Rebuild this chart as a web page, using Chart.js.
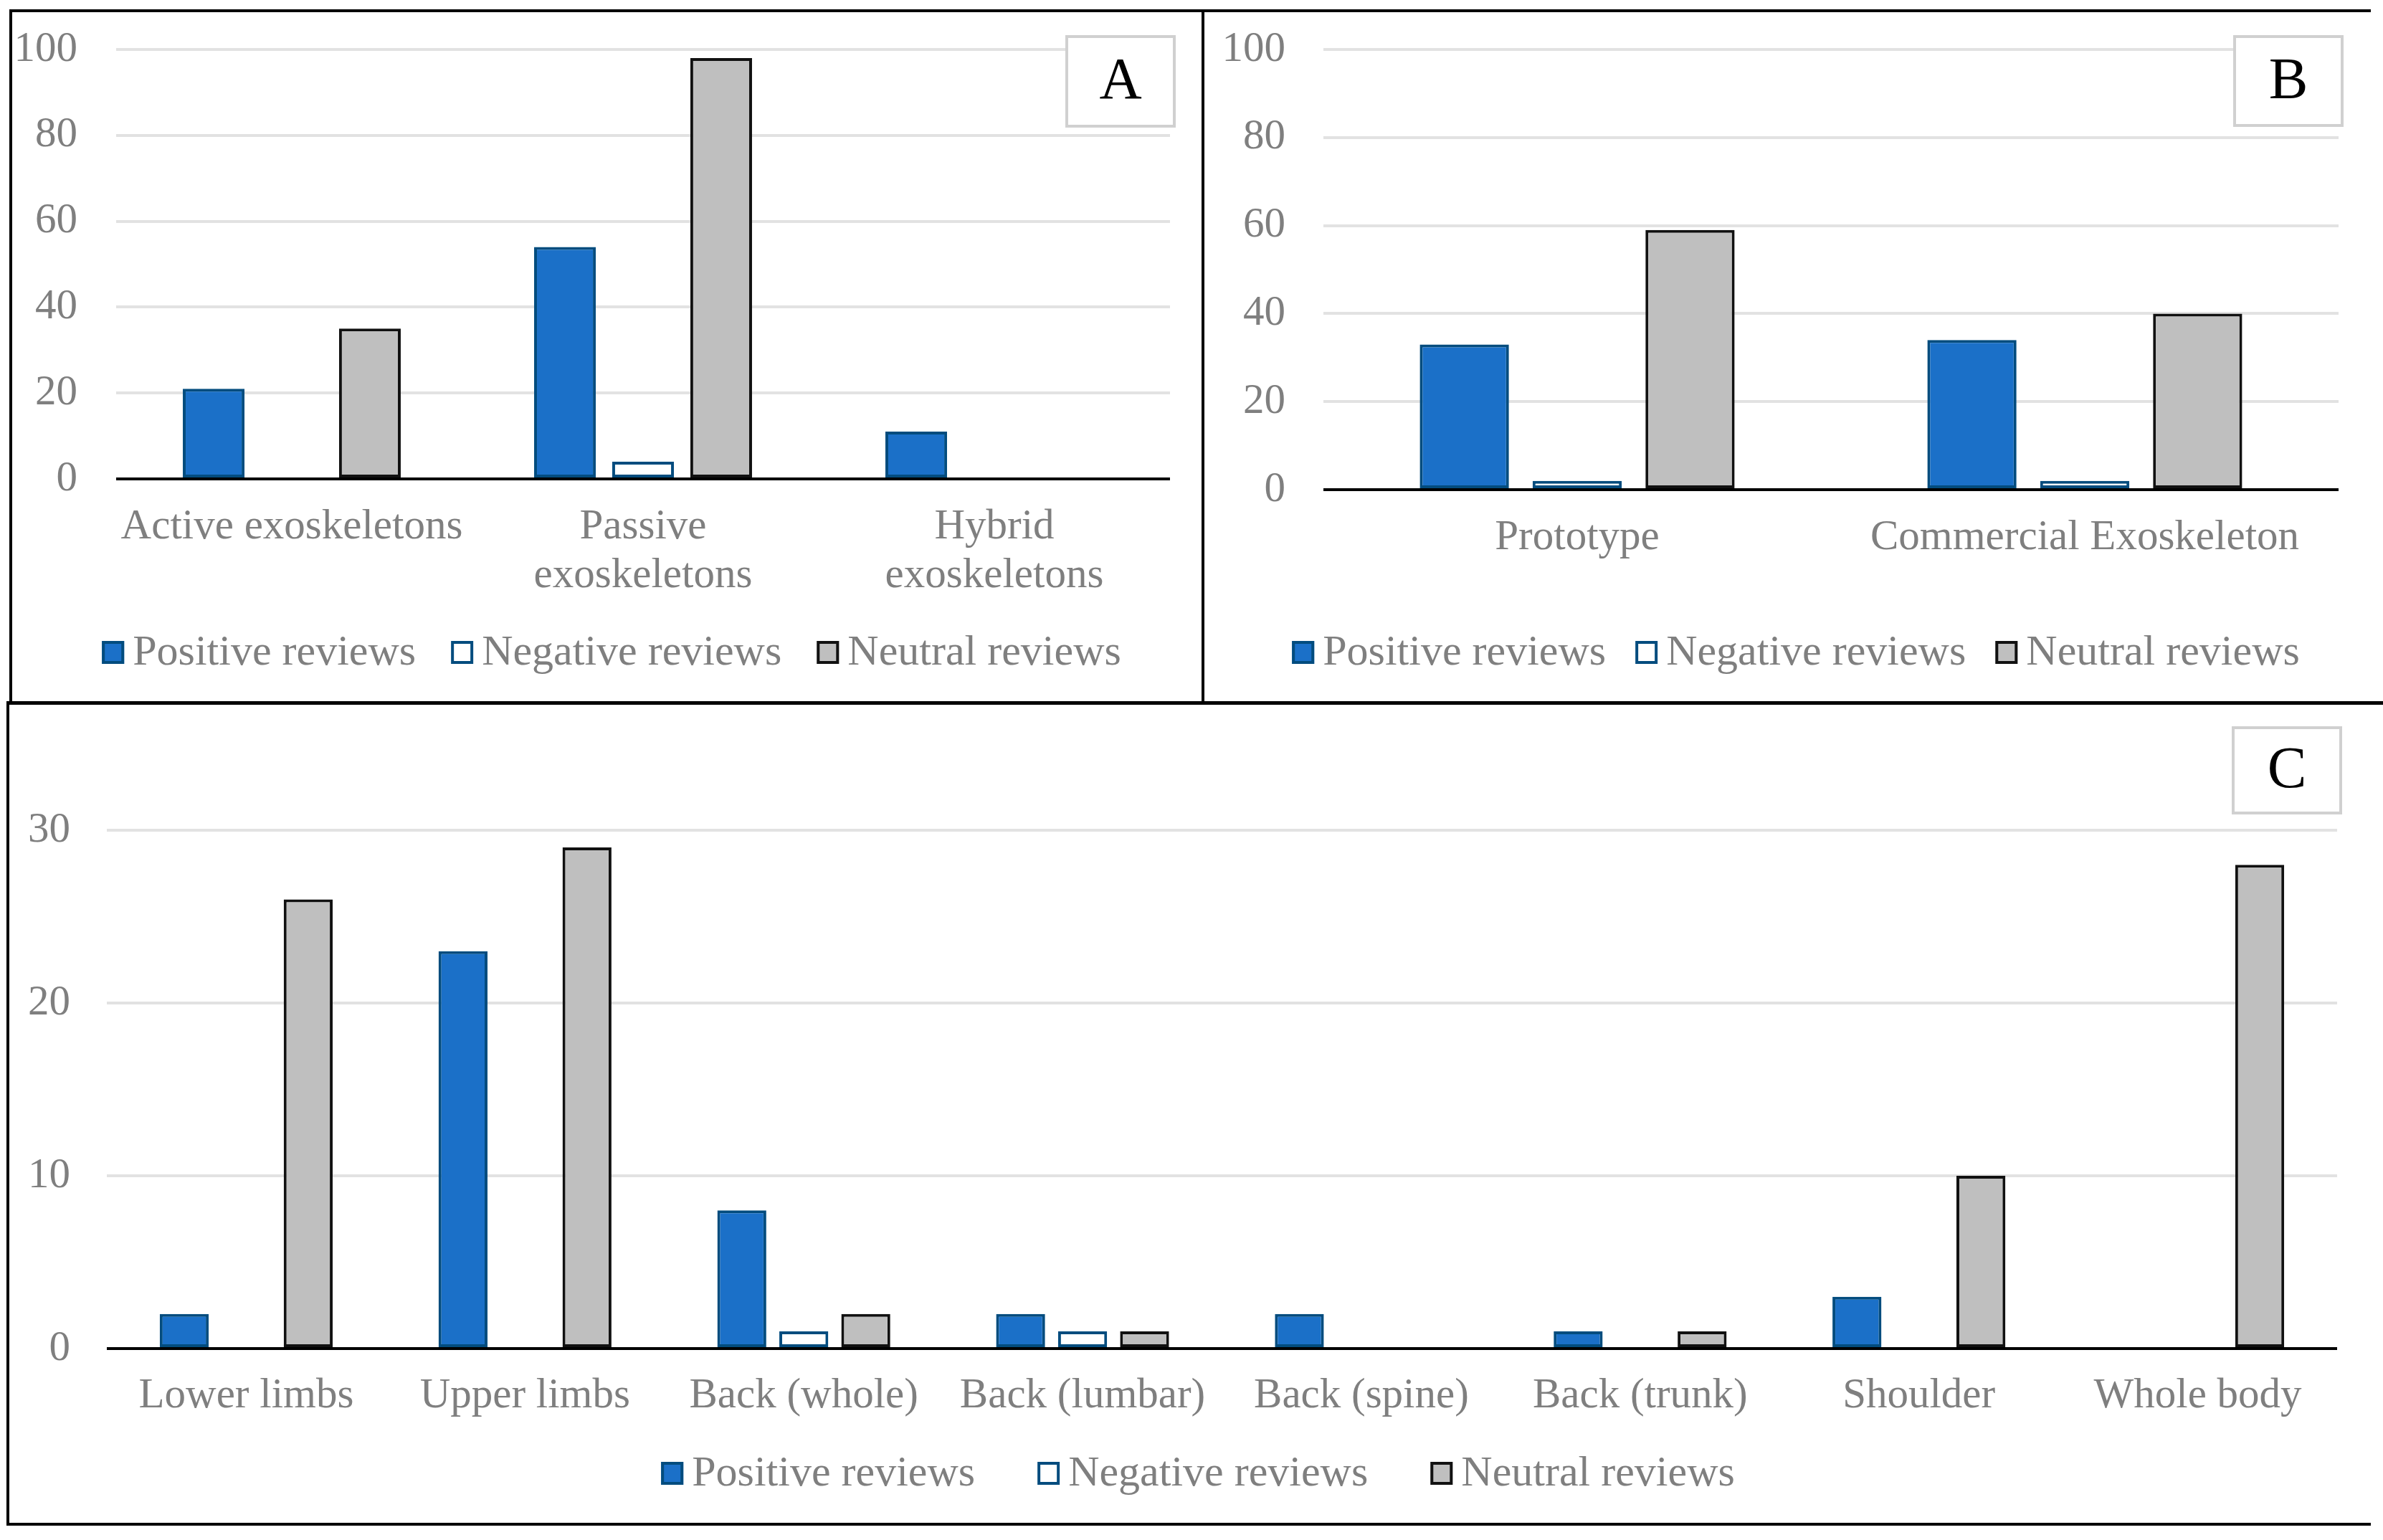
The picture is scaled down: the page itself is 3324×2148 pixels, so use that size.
<!DOCTYPE html>
<html>
<head>
<meta charset="utf-8">
<script src="https://cdn.jsdelivr.net/npm/chart.js@4.4.1/dist/chart.umd.min.js"></script>
<style>
  html, body { margin: 0; padding: 0; background: #ffffff; }
  body { width: 3324px; height: 2148px; position: relative; overflow: hidden; font-family: "Liberation Serif", serif; }
  canvas { position: absolute; }
  .ln { position: absolute; background: #000000; }
</style>
</head>
<body>
<div class="ln" style="left:13px;top:13px;width:3294px;height:4px;"></div>
<div class="ln" style="left:13px;top:13px;width:4px;height:970px;"></div>
<div class="ln" style="left:1676px;top:13px;width:4px;height:970px;"></div>
<div class="ln" style="left:9px;top:978px;width:3315px;height:5px;"></div>
<div class="ln" style="left:9px;top:978px;width:4px;height:1150px;"></div>
<div class="ln" style="left:9px;top:2124px;width:3298px;height:4px;"></div>

<canvas id="chartA" width="1659" height="961" style="left:17px;top:17px;width:1659px;height:961px;"></canvas>
<canvas id="chartB" width="1644" height="961" style="left:1680px;top:17px;width:1644px;height:961px;"></canvas>
<canvas id="chartC" width="3311" height="1141" style="left:13px;top:983px;width:3311px;height:1141px;"></canvas>

<script>
// ---------- Data ----------
const seriesNames = ["Positive reviews", "Negative reviews", "Neutral reviews"];

const categoriesA = ["Active exoskeletons", ["Passive", "exoskeletons"], ["Hybrid", "exoskeletons"]];
const positiveA = [21, 54, 11];
const negativeA = [0, 4, 0];
const neutralA  = [35, 98, 0];
const yTicksA   = [0, 20, 40, 60, 80, 100];

const categoriesB = ["Prototype", "Commercial Exoskeleton"];
const positiveB = [33, 34];
const negativeB = [2, 2];
const neutralB  = [59, 40];
const yTicksB   = [0, 20, 40, 60, 80, 100];

const categoriesC = ["Lower limbs", "Upper limbs", "Back (whole)", "Back (lumbar)", "Back (spine)", "Back (trunk)", "Shoulder", "Whole body"];
const positiveC = [2, 23, 8, 2, 2, 1, 3, 0];
const negativeC = [0, 0, 1, 1, 0, 0, 0, 0];
const neutralC  = [26, 29, 2, 1, 0, 1, 10, 28];
const yTicksC   = [0, 10, 20, 30];

// ---------- Styles ----------
const FONT = '"Liberation Serif", "Times New Roman", serif';
const GRAY_TEXT = '#7f7f7f';
const POS_FILL = '#1b70c8', POS_EDGE = '#034c7e';
const NEG_FILL = '#ffffff', NEG_EDGE = '#034c7e';
const NEU_FILL = '#bfbfbf', NEU_EDGE = '#111111';

function datasets(pos, neg, neu) {
  const common = { borderWidth: 4, borderSkipped: false, categoryPercentage: 0.667, barPercentage: 0.79 };
  return [
    Object.assign({ label: seriesNames[0], data: pos, backgroundColor: POS_FILL, borderColor: POS_EDGE }, common),
    Object.assign({ label: seriesNames[1], data: neg, backgroundColor: NEG_FILL, borderColor: NEG_EDGE }, common),
    Object.assign({ label: seriesNames[2], data: neu, backgroundColor: NEU_FILL, borderColor: NEU_EDGE }, common)
  ];
}

function decorPlugin(cfg) {
  return {
    id: 'decor_' + cfg.letter,
    afterDraw(chart) {
      const ctx = chart.ctx;
      ctx.save();
      // Legend
      ctx.font = '60px ' + FONT;
      ctx.textBaseline = 'middle';
      ctx.textAlign = 'left';
      const boxW = 31, boxH = 32, gap = 12;
      const items = chart.data.datasets.map(ds => ({
        text: ds.label, fill: ds.backgroundColor, edge: ds.borderColor,
        w: ctx.measureText(ds.label).width
      }));
      let total = 0;
      items.forEach((it, i) => { total += boxW + gap + it.w + (i ? cfg.itemGap : 0); });
      let x = cfg.legendCx - total / 2;
      items.forEach((it, i) => {
        if (i) x += cfg.itemGap;
        const y0 = cfg.legendCy - boxH / 2;
        ctx.fillStyle = it.fill;
        ctx.fillRect(x, y0, boxW, boxH);
        ctx.strokeStyle = it.edge;
        ctx.lineWidth = 4;
        ctx.strokeRect(x + 2, y0 + 2, boxW - 4, boxH - 4);
        x += boxW + gap;
        ctx.fillStyle = GRAY_TEXT;
        ctx.fillText(it.text, x, cfg.legendCy + 1);
        x += it.w;
      });
      // Panel letter box
      const b = cfg.box;
      ctx.fillStyle = '#ffffff';
      ctx.fillRect(b.x, b.y, b.w, b.h);
      ctx.strokeStyle = '#d0d0d0';
      ctx.lineWidth = 4;
      ctx.strokeRect(b.x + 2, b.y + 2, b.w - 4, b.h - 4);
      ctx.fillStyle = '#000000';
      ctx.font = '82px ' + FONT;
      ctx.textAlign = 'center';
      ctx.textBaseline = 'middle';
      ctx.fillText(cfg.letter, b.x + b.w / 2, b.y + b.h / 2 + 2);
      ctx.restore();
    }
  };
}

function makeChart(id, cats, pos, neg, neu, yTicks, L) {
  const step = yTicks[1] - yTicks[0];
  return new Chart(document.getElementById(id), {
    type: 'bar',
    data: { labels: cats, datasets: datasets(pos, neg, neu) },
    options: {
      responsive: false,
      devicePixelRatio: 1,
      animation: false,
      layout: { padding: { left: 0, right: L.padRight, top: L.padTop, bottom: L.padBottom } },
      plugins: { legend: { display: false }, tooltip: { enabled: false }, title: { display: false } },
      scales: {
        x: {
          grid: { display: false, drawTicks: false },
          border: { display: false },
          ticks: {
            color: GRAY_TEXT, padding: L.xPad, maxRotation: 0, minRotation: 0, autoSkip: false,
            font: { family: FONT, size: 59, lineHeight: 1.15 }
          },
          afterFit(s) { s.height = L.xHeight; s.paddingLeft = 0; s.paddingRight = 0; }
        },
        y: {
          min: yTicks[0], max: yTicks[yTicks.length - 1],
          border: { display: false },
          grid: {
            drawTicks: false, lineWidth: 4,
            color: c => (c.tick && c.tick.value === 0) ? '#000000' : '#e2e2e2'
          },
          ticks: {
            stepSize: step, color: GRAY_TEXT, padding: L.yPad,
            font: { family: FONT, size: 59 }
          },
          afterFit(s) { s.width = L.yWidth; s.paddingTop = 0; s.paddingBottom = 0; }
        }
      }
    },
    plugins: [decorPlugin(L.decor)]
  });
}

function init() {
  makeChart('chartA', categoriesA, positiveA, negativeA, neutralA, yTicksA, {
    padRight: 44, padTop: 52, padBottom: 110, xHeight: 200, xPad: 34, yPad: 54, yWidth: 145,
    decor: { letter: 'A', legendCx: 836, legendCy: 893, itemGap: 49, box: { x: 1469, y: 32, w: 154, h: 129 } }
  });
  makeChart('chartB', categoriesB, positiveB, negativeB, neutralB, yTicksB, {
    padRight: 62, padTop: 52, padBottom: 95, xHeight: 200, xPad: 34, yPad: 53, yWidth: 166,
    decor: { letter: 'B', legendCx: 825, legendCy: 893, itemGap: 41, box: { x: 1435, y: 32, w: 154, h: 128 } }
  });
  makeChart('chartC', categoriesC, positiveC, negativeC, neutralC, yTicksC, {
    padRight: 64, padTop: 175, padBottom: 93, xHeight: 150, xPad: 33, yPad: 51, yWidth: 136,
    decor: { letter: 'C', legendCx: 1658, legendCy: 1072, itemGap: 87, box: { x: 3100, y: 30, w: 154, h: 123 } }
  });
}

if (document.fonts && document.fonts.load) {
  document.fonts.load('59px "Liberation Serif"').then(init, init);
} else {
  init();
}
</script>
</body>
</html>
